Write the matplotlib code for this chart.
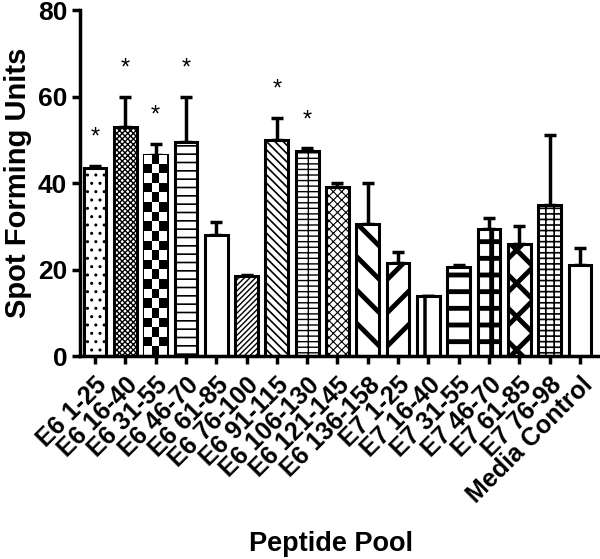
import matplotlib
matplotlib.use("Agg")
import matplotlib.pyplot as plt
import numpy as np

pools = ["E6 1-25", "E6 16-40", "E6 31-55", "E6 46-70", "E6 61-85", "E6 76-100",
         "E6 91-115", "E6 106-130", "E6 121-145", "E6 136-158", "E7 1-25",
         "E7 16-40", "E7 31-55", "E7 46-70", "E7 61-85", "E7 76-98", "Media Control"]
sfu = [43.5, 53, 46.5, 49.5, 28, 18.5, 50, 47.4, 39, 30.5, 21.5, 14, 20.5, 29.4, 26, 35, 21]
sem = [0.5, 7, 2.5, 10.5, 3, 0.3, 5, 0.6, 1, 9.5, 2.5, 0, 0.5, 2.6, 4, 16, 4]
signif = [True, True, True, True, False, False, True, True,
          False, False, False, False, False, False, False, False, False]

# hatch pattern, hatch line width; None -> checkerboard drawn by hand
hatches = [("..", 1.0), ("xxxxxx", 1.0), (None, 0), ("--", 1.2), ("", 1), ("//////", 1.0),
           ("\\\\\\\\", 1.2), ("--+", 1.0), ("xxxx", 0.8), ("\\", 3.5), ("/", 3.5),
           ("|", 2.5), ("-", 3.5), ("+", 3.5), ("x", 3.5), ("---||", 1.2), ("", 1)]

plt.rcParams['font.family'] = ['Liberation Sans', 'DejaVu Sans']
plt.rcParams['font.weight'] = 'bold'

fig = plt.figure(figsize=(6, 5.59), dpi=100)
ax = fig.add_axes([0.133, 0.363, 0.867, 0.619])

x = np.arange(len(pools))
w = 0.75
bars = ax.bar(x, sfu, w, color="white", edgecolor="black", linewidth=2.2, zorder=2)
ax.errorbar(x, sfu, yerr=[np.zeros(len(sem)), sem], fmt="none", ecolor="black",
            elinewidth=2.5, capsize=4, capthick=2.5, zorder=1)

for b, (h, lw) in zip(bars, hatches):
    if h is None:
        bx, by = b.get_x(), b.get_y()
        bw, bh = b.get_width(), b.get_height()
        ncol = 3
        nrow = int(round(bh * 4.33 / 9.5))
        board = (np.add.outer(np.arange(nrow), np.arange(ncol)) % 2).astype(float)
        im = ax.imshow(board, cmap="gray_r", extent=(bx, bx + bw, by, by + bh),
                       aspect="auto", interpolation="nearest", zorder=2.1, origin="lower")
        im.set_clip_path(b)
        continue
    b.set_hatch(h)
    if hasattr(b, "set_hatch_linewidth"):
        b.set_hatch_linewidth(lw)

for xi, v, e, s in zip(x, sfu, sem, signif):
    if s:
        ax.text(xi, v + e + 4.0, "*", ha="center", va="bottom", fontsize=17,
                fontweight="normal")

ax.set_xlim(-0.5, 16.66)
ax.set_ylim(0, 80)
ax.set_yticks([0, 20, 40, 60, 80])
ax.set_xticks(x)
ax.set_xticklabels(pools, rotation=45, ha="right", rotation_mode="anchor", fontsize=18)
ax.tick_params(axis="y", labelsize=19, width=2.5, length=6, pad=3)
ax.tick_params(axis="x", width=2.5, length=6, pad=6)
for sp in ["top", "right"]:
    ax.spines[sp].set_visible(False)
for sp in ["left", "bottom"]:
    ax.spines[sp].set_linewidth(2.5)
ax.set_ylabel("Spot Forming Units", fontsize=21, fontweight="bold", labelpad=4)
ax.set_xlabel("Peptide Pool", fontsize=19.5, fontweight="bold")
ax.xaxis.set_label_coords(0.483, -0.505)

fig.savefig("out.png", dpi=100)
